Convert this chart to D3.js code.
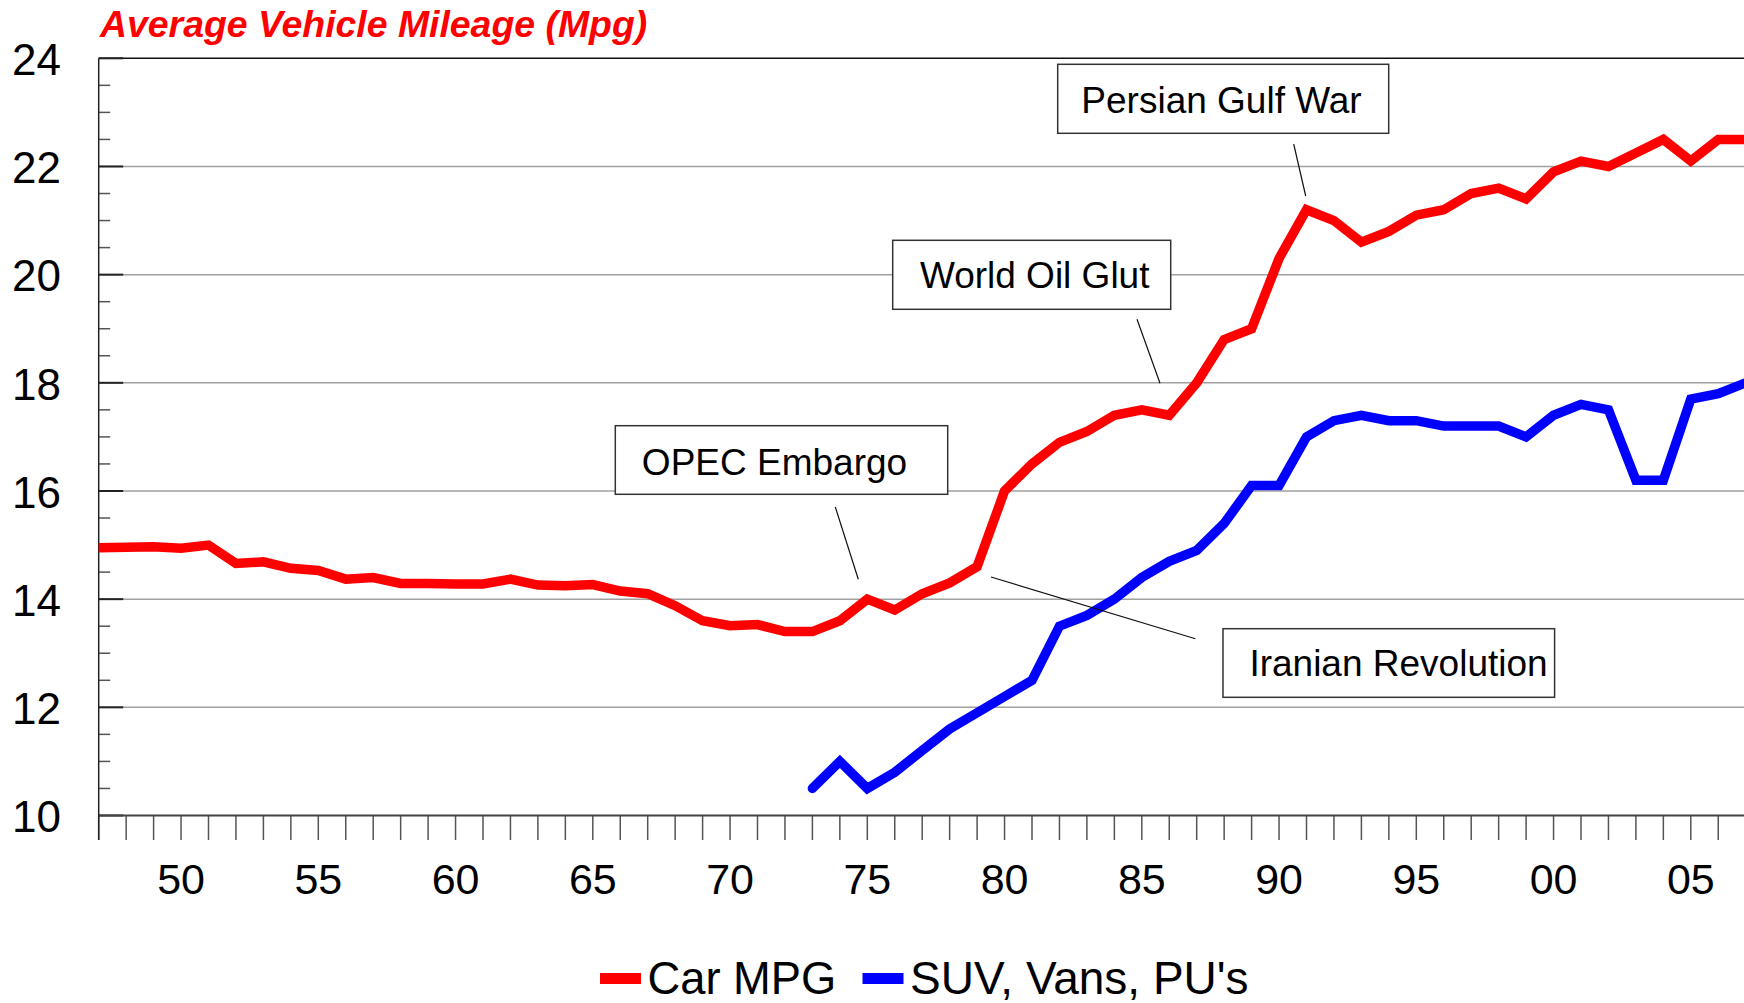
<!DOCTYPE html>
<html>
<head>
<meta charset="utf-8">
<script src="https://cdn.jsdelivr.net/npm/d3@7"></script>
<style>
  html, body { margin: 0; padding: 0; background: #fff; }
  svg { display: block; font-family: "Liberation Sans", Arial, sans-serif; }
</style>
</head>
<body>
<svg id="chart" width="1744" height="1003"></svg>
<script>
// Average passenger car fuel economy, one value per year from 1947
const carStartYear = 1947;
const carMpg = [
  14.95, 14.96, 14.97, 14.94, 15.0, 14.66, 14.69, 14.57, 14.53, 14.37,
  14.40, 14.29, 14.29, 14.28, 14.28, 14.37, 14.26, 14.25, 14.27, 14.15,
  14.10, 13.88, 13.60, 13.51, 13.53, 13.40, 13.40, 13.60, 14.0, 13.8,
  14.1, 14.3, 14.6, 16.0, 16.5, 16.9, 17.1, 17.4, 17.5, 17.4,
  18.0, 18.8, 19.0, 20.3, 21.2, 21.0, 20.6, 20.8, 21.1, 21.2,
  21.5, 21.6, 21.4, 21.9, 22.1, 22.0, 22.25, 22.5, 22.1, 22.5,
  22.5
];

// SUVs, vans and pickups, one value per year from 1973
const truckStartYear = 1973;
const truckMpg = [
  10.5, 11.0, 10.5, 10.8, 11.2, 11.6, 11.9, 12.2, 12.5, 13.5,
  13.7, 14.0, 14.4, 14.7, 14.9, 15.4, 16.1, 16.1, 17.0, 17.3,
  17.4, 17.3, 17.3, 17.2, 17.2, 17.2, 17.0, 17.4, 17.6, 17.5,
  16.2, 16.2, 17.7, 17.8, 18.0
];

const seriesNames = ["Car MPG", "SUV, Vans, PU's"];
const seriesColors = ["#ff0000", "#0000ff"];

const yMajorTicks = [10, 12, 14, 16, 18, 20, 22, 24];
const xLabelYears = [1950, 1955, 1960, 1965, 1970, 1975, 1980, 1985, 1990, 1995, 2000, 2005];
const xLabelText = ["50", "55", "60", "65", "70", "75", "80", "85", "90", "95", "00", "05"];

// Event callout labels
const eventLabels = ["Persian Gulf War", "World Oil Glut", "OPEC Embargo", "Iranian Revolution"];

const svg = d3.select("#chart");
const W = 1744, H = 1003;
const plotLeft = 98.7, plotTop = 58.3, plotBottom = 815.5;

const x = d3.scaleLinear().domain([1947, 2007]).range([plotLeft, 1745.7]);
const y = d3.scaleLinear().domain([10, 24]).range([plotBottom, plotTop]);

svg.append("rect").attr("width", W).attr("height", H).attr("fill", "#fff");

// Title
svg.append("text")
  .attr("x", 100).attr("y", 36.7)
  .attr("fill", "#ff0000")
  .attr("font-size", 37.4)
  .attr("font-weight", "bold")
  .attr("font-style", "italic")
  .text("Average Vehicle Mileage (Mpg)");

// Horizontal gridlines
svg.append("g").selectAll("line")
  .data(yMajorTicks.filter(v => v > 10 && v < 24))
  .join("line")
  .attr("x1", plotLeft).attr("x2", W)
  .attr("y1", d => y(d)).attr("y2", d => y(d))
  .attr("stroke", "#a0a0a0").attr("stroke-width", 1.5);

// Top frame line
svg.append("line")
  .attr("x1", plotLeft).attr("x2", W)
  .attr("y1", y(24)).attr("y2", y(24))
  .attr("stroke", "#111").attr("stroke-width", 1.5);

// Minor y ticks every half unit
const minorY = d3.range(10.5, 24, 0.5).filter(v => v % 2 !== 0);
svg.append("g").selectAll("line")
  .data(minorY)
  .join("line")
  .attr("x1", plotLeft).attr("x2", plotLeft + 11.5)
  .attr("y1", d => y(d)).attr("y2", d => y(d))
  .attr("stroke", "#555").attr("stroke-width", 1.5);

// Major y ticks
svg.append("g").selectAll("line")
  .data(yMajorTicks)
  .join("line")
  .attr("x1", plotLeft).attr("x2", plotLeft + 24.5)
  .attr("y1", d => y(d)).attr("y2", d => y(d))
  .attr("stroke", "#222").attr("stroke-width", 2);

// Y labels
svg.append("g").selectAll("text")
  .data(yMajorTicks)
  .join("text")
  .attr("x", 61).attr("y", d => y(d) + 16.7)
  .attr("text-anchor", "end")
  .attr("font-size", 44)
  .attr("fill", "#000")
  .text(d => d);

// X axis: yearly ticks hanging below the baseline
const allYears = d3.range(1947, 2008);
svg.append("g").selectAll("line")
  .data(allYears)
  .join("line")
  .attr("x1", d => x(d)).attr("x2", d => x(d))
  .attr("y1", plotBottom).attr("y2", plotBottom + 24.5)
  .attr("stroke", "#555").attr("stroke-width", 1.5);

svg.append("line")
  .attr("x1", plotLeft).attr("x2", W)
  .attr("y1", plotBottom).attr("y2", plotBottom)
  .attr("stroke", "#444").attr("stroke-width", 2);

svg.append("line")
  .attr("x1", plotLeft).attr("x2", plotLeft)
  .attr("y1", plotTop).attr("y2", plotBottom + 24.5)
  .attr("stroke", "#222").attr("stroke-width", 1.5);

svg.append("g").selectAll("text")
  .data(xLabelYears)
  .join("text")
  .attr("x", d => x(d)).attr("y", 893.5)
  .attr("text-anchor", "middle")
  .attr("font-size", 43)
  .attr("fill", "#000")
  .text((d, i) => xLabelText[i]);

// Data lines
svg.append("clipPath").attr("id", "plotClip")
  .append("rect").attr("x", plotLeft).attr("y", 0).attr("width", W - plotLeft).attr("height", H);

const line = d3.line().x(d => x(d[0])).y(d => y(d[1]));
const carPts = carMpg.map((v, i) => [carStartYear + i, v]);
const truckPts = truckMpg.map((v, i) => [truckStartYear + i, v]);

const lines = svg.append("g").attr("clip-path", "url(#plotClip)");
[carPts, truckPts].forEach((pts, i) => {
  lines.append("path")
    .attr("d", line(pts))
    .attr("fill", "none")
    .attr("stroke", seriesColors[i])
    .attr("stroke-width", 9.5)
    .attr("stroke-linejoin", "miter")
    .attr("stroke-linecap", "round");
});

// Event callouts: box, label and leader line
const callouts = [
  { label: eventLabels[0], bx: 1057.7, by: 64.3, bw: 331, bh: 69, tx: 1221.5, ty: 112.7, lx1: 1293.7, ly1: 144, lx2: 1305.7, ly2: 196 },
  { label: eventLabels[1], bx: 892.7, by: 240.3, bw: 278, bh: 69, tx: 1034.7, ty: 288.3, lx1: 1137, ly1: 319.3, lx2: 1160, ly2: 383.3 },
  { label: eventLabels[2], bx: 615.3, by: 425.7, bw: 332.4, bh: 68.6, tx: 774.5, ty: 475, lx1: 835.3, ly1: 507, lx2: 858.3, ly2: 579.3 },
  { label: eventLabels[3], bx: 1223, by: 628.7, bw: 331.6, bh: 68.6, tx: 1398.5, ty: 676, lx1: 991, ly1: 577, lx2: 1195.4, ly2: 638.7 }
];
const cg = svg.append("g");
callouts.forEach(c => {
  cg.append("line")
    .attr("x1", c.lx1).attr("y1", c.ly1).attr("x2", c.lx2).attr("y2", c.ly2)
    .attr("stroke", "#111").attr("stroke-width", 1.2);
  cg.append("rect")
    .attr("x", c.bx).attr("y", c.by).attr("width", c.bw).attr("height", c.bh)
    .attr("fill", "#fff").attr("stroke", "#333").attr("stroke-width", 1.5);
  cg.append("text")
    .attr("x", c.tx).attr("y", c.ty)
    .attr("text-anchor", "middle")
    .attr("font-size", 37)
    .attr("fill", "#000")
    .text(c.label);
});

// Legend
const legend = [
  { sx: 600, tx: 647.5, fs: 45.3 },
  { sx: 862.5, tx: 910, fs: 46 }
];
legend.forEach((l, i) => {
  svg.append("rect")
    .attr("x", l.sx).attr("y", 973).attr("width", 41).attr("height", 11)
    .attr("fill", seriesColors[i]);
  svg.append("text")
    .attr("x", l.tx).attr("y", 994)
    .attr("font-size", l.fs)
    .attr("fill", "#000")
    .text(seriesNames[i]);
});
</script>
</body>
</html>
